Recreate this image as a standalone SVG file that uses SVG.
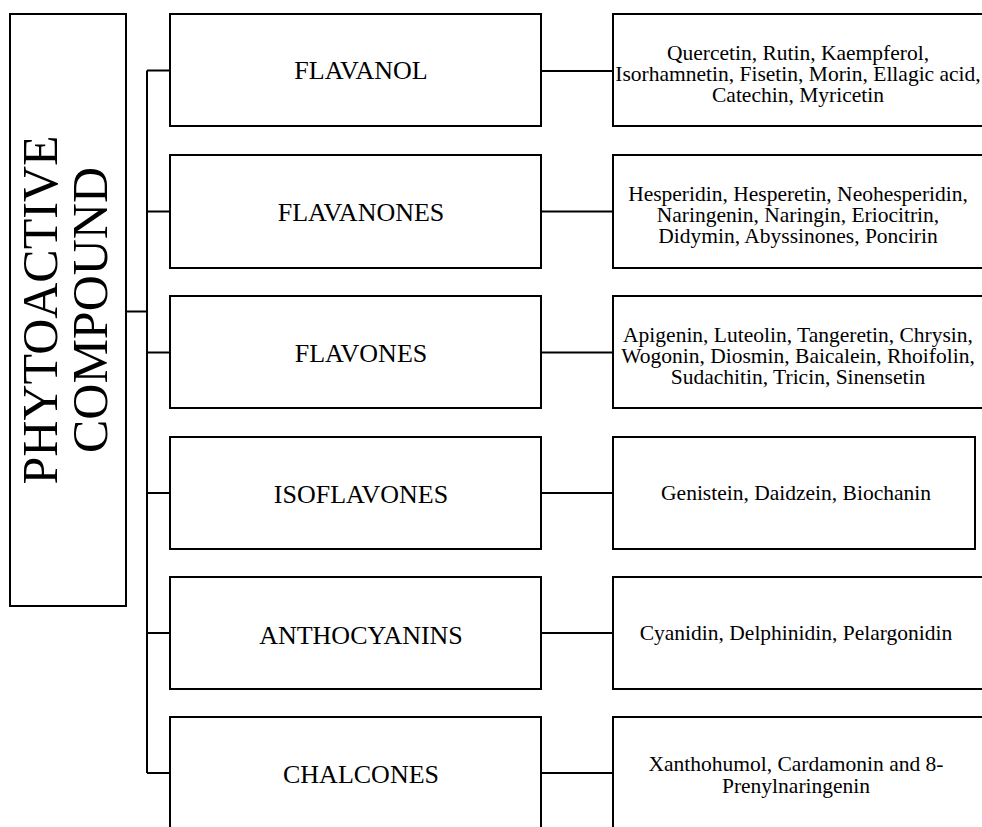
<svg xmlns="http://www.w3.org/2000/svg" width="982" height="827" viewBox="0 0 982 827">
<style>
.box{fill:#fff;stroke:#000;stroke-width:2}
.ln{fill:none;stroke:#000;stroke-width:2}
text{font-family:"Liberation Serif","Times New Roman",serif;fill:#000;text-anchor:middle}
.mid{font-size:26px}
.sub{font-size:21.5px}
.root{font-size:50px}
</style>
<rect width="982" height="827" fill="#fff"/>
<g id="connectors">
<path class="ln" d="M126 311.5H147M147 70.5V773M147 70.5H170M147 211.5H170M147 352.5H170M147 493H170M147 633H170M147 773H170"/>
<path class="ln" d="M541 71H613M541 211.5H613M541 352.5H613M541 493H613M541 633H613M541 773H613"/>
</g>
<g id="root">
<rect class="box" x="10" y="14" width="116" height="592"/>
<text class="root" transform="translate(57,310) rotate(-90)" x="0" y="0">PHYTOACTIVE</text>
<text class="root" transform="translate(107,310) rotate(-90)" x="0" y="0">COMPOUND</text>
</g>
<g id="flavanol">
<rect class="box" x="170" y="14" width="371" height="112"/>
<text class="mid" x="361" y="79">FLAVANOL</text>
</g>
<g id="flavanones">
<rect class="box" x="170" y="155" width="371" height="113"/>
<text class="mid" x="361" y="221">FLAVANONES</text>
</g>
<g id="flavones">
<rect class="box" x="170" y="296" width="371" height="112"/>
<text class="mid" x="361" y="362">FLAVONES</text>
</g>
<g id="isoflavones">
<rect class="box" x="170" y="437" width="371" height="112"/>
<text class="mid" x="361" y="503">ISOFLAVONES</text>
</g>
<g id="anthocyanins">
<rect class="box" x="170" y="577" width="371" height="112"/>
<text class="mid" x="361" y="644">ANTHOCYANINS</text>
</g>
<g id="chalcones">
<rect class="box" x="170" y="717" width="371" height="130"/>
<text class="mid" x="361" y="783">CHALCONES</text>
</g>
<g id="flavanol-list">
<rect class="box" x="613" y="14" width="380" height="112"/>
<text class="sub" x="798" y="59.5">Quercetin, Rutin, Kaempferol,</text>
<text class="sub" x="798" y="80.5">Isorhamnetin, Fisetin, Morin, Ellagic acid,</text>
<text class="sub" x="798" y="101.5">Catechin, Myricetin</text>
</g>
<g id="flavanones-list">
<rect class="box" x="613" y="155" width="380" height="113"/>
<text class="sub" x="798" y="201">Hesperidin, Hesperetin, Neohesperidin,</text>
<text class="sub" x="798" y="222">Naringenin, Naringin, Eriocitrin,</text>
<text class="sub" x="798" y="243">Didymin, Abyssinones, Poncirin</text>
</g>
<g id="flavones-list">
<rect class="box" x="613" y="296" width="380" height="112"/>
<text class="sub" x="798" y="342">Apigenin, Luteolin, Tangeretin, Chrysin,</text>
<text class="sub" x="798" y="363">Wogonin, Diosmin, Baicalein, Rhoifolin,</text>
<text class="sub" x="798" y="384">Sudachitin, Tricin, Sinensetin</text>
</g>
<g id="isoflavones-list">
<rect class="box" x="613" y="437" width="362" height="112"/>
<text class="sub" x="796" y="500">Genistein, Daidzein, Biochanin</text>
</g>
<g id="anthocyanins-list">
<rect class="box" x="613" y="577" width="380" height="112"/>
<text class="sub" x="796" y="640">Cyanidin, Delphinidin, Pelargonidin</text>
</g>
<g id="chalcones-list">
<rect class="box" x="613" y="717" width="380" height="130"/>
<text class="sub" x="796" y="770.5">Xanthohumol, Cardamonin and 8-</text>
<text class="sub" x="796" y="793">Prenylnaringenin</text>
</g>
</svg>
